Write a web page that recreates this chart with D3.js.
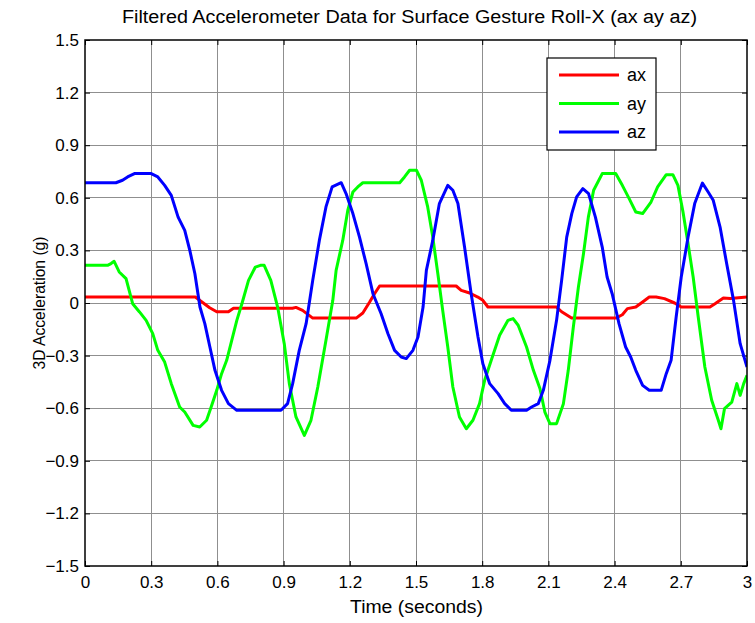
<!DOCTYPE html>
<html><head><meta charset="utf-8">
<script src="https://cdn.jsdelivr.net/npm/d3@7"></script>
<style>body{margin:0;background:#fff}svg{display:block}text{font-family:"Liberation Sans",Arial,sans-serif;fill:#000}</style>
</head><body><svg id="c" width="755" height="623"></svg>
<script>
const title = "Filtered Accelerometer Data for Surface Gesture Roll-X (ax ay az)";
const xLabel = "Time (seconds)";
const yLabel = "3D Acceleration (g)";
const xTicks = [0,0.3,0.6,0.9,1.2,1.5,1.8,2.1,2.4,2.7,3];
const yTicks = [-1.5,-1.2,-0.9,-0.6,-0.3,0,0.3,0.6,0.9,1.2,1.5];
const seriesNames = ["ax","ay","az"];
const seriesColors = ["#ff0000","#00ff00","#0000ff"];

const axT = [0,0.50,0.53,0.565,0.597,0.65,0.673,0.94,0.956,0.986,1.032,1.229,1.259,1.29,1.312,1.335,1.682,1.705,1.743,1.78,1.803,1.826,2.137,2.16,2.205,2.405,2.435,2.458,2.496,2.527,2.557,2.588,2.626,2.672,2.702,2.832,2.855,2.893,2.924,3.0];
const axV = [0.034,0.034,0.006,-0.027,-0.05,-0.05,-0.03,-0.03,-0.025,-0.042,-0.086,-0.086,-0.057,0.006,0.053,0.097,0.097,0.072,0.057,0.034,0.015,-0.023,-0.023,-0.05,-0.086,-0.086,-0.067,-0.032,-0.023,0.006,0.034,0.034,0.025,0,-0.023,-0.023,-0.004,0.029,0.025,0.034];

const ayT = [0,0.102,0.118,0.132,0.155,0.186,0.216,0.247,0.277,0.307,0.33,0.361,0.391,0.429,0.452,0.49,0.52,0.551,0.574,0.597,0.619,0.642,0.665,0.688,0.711,0.741,0.772,0.795,0.812,0.842,0.873,0.903,0.926,0.956,0.994,1.024,1.055,1.092,1.123,1.138,1.168,1.191,1.214,1.236,1.259,1.426,1.448,1.471,1.502,1.524,1.553,1.576,1.599,1.621,1.644,1.667,1.697,1.728,1.758,1.788,1.811,1.841,1.879,1.917,1.94,1.963,2.001,2.032,2.062,2.084,2.107,2.137,2.168,2.19,2.213,2.236,2.259,2.281,2.305,2.344,2.405,2.435,2.466,2.496,2.527,2.565,2.595,2.634,2.664,2.687,2.71,2.733,2.756,2.779,2.809,2.84,2.87,2.882,2.898,2.931,2.954,2.969,2.985,3.0];
const ayV = [0.215,0.215,0.225,0.238,0.177,0.139,-0.004,-0.051,-0.099,-0.175,-0.27,-0.337,-0.46,-0.593,-0.622,-0.698,-0.707,-0.669,-0.584,-0.498,-0.403,-0.327,-0.213,-0.099,-0.004,0.129,0.205,0.215,0.215,0.129,-0.023,-0.232,-0.46,-0.65,-0.755,-0.669,-0.479,-0.213,0.015,0.186,0.357,0.529,0.633,0.662,0.686,0.686,0.719,0.757,0.757,0.7,0.548,0.376,0.167,-0.042,-0.251,-0.479,-0.65,-0.717,-0.669,-0.574,-0.441,-0.327,-0.184,-0.099,-0.089,-0.127,-0.251,-0.384,-0.489,-0.622,-0.688,-0.688,-0.574,-0.384,-0.137,0.091,0.281,0.49,0.643,0.738,0.738,0.671,0.595,0.519,0.51,0.576,0.662,0.732,0.732,0.671,0.519,0.338,0.148,-0.08,-0.365,-0.555,-0.669,-0.717,-0.603,-0.565,-0.46,-0.527,-0.46,-0.413];

const azT = [0,0.14,0.17,0.193,0.224,0.3,0.33,0.361,0.391,0.422,0.452,0.475,0.498,0.521,0.543,0.566,0.589,0.619,0.65,0.688,0.888,0.918,0.941,0.971,1.002,1.032,1.062,1.092,1.12,1.161,1.183,1.214,1.244,1.274,1.305,1.342,1.373,1.403,1.433,1.456,1.486,1.509,1.532,1.547,1.576,1.606,1.644,1.667,1.69,1.72,1.75,1.781,1.803,1.834,1.872,1.902,1.932,2.001,2.024,2.054,2.077,2.107,2.137,2.16,2.183,2.206,2.228,2.256,2.282,2.313,2.344,2.366,2.389,2.42,2.45,2.473,2.496,2.527,2.557,2.611,2.634,2.656,2.679,2.702,2.733,2.763,2.798,2.824,2.847,2.878,2.908,2.939,2.969,3.0];
const azV = [0.686,0.686,0.7,0.719,0.738,0.738,0.719,0.671,0.614,0.49,0.414,0.3,0.167,-0.023,-0.118,-0.251,-0.384,-0.498,-0.574,-0.612,-0.612,-0.574,-0.46,-0.27,-0.118,0.129,0.357,0.548,0.662,0.686,0.624,0.51,0.376,0.224,0.053,-0.061,-0.175,-0.27,-0.308,-0.317,-0.27,-0.194,-0.023,0.186,0.357,0.567,0.671,0.643,0.567,0.319,0.053,-0.194,-0.346,-0.46,-0.517,-0.574,-0.612,-0.612,-0.593,-0.574,-0.498,-0.327,-0.099,0.129,0.376,0.51,0.605,0.652,0.624,0.49,0.319,0.148,0.053,-0.118,-0.251,-0.308,-0.384,-0.47,-0.498,-0.498,-0.403,-0.327,-0.08,0.148,0.376,0.567,0.684,0.633,0.586,0.433,0.224,0.015,-0.232,-0.365];

const svg = d3.select("#c");
const L=85, R=747, T=40, B=566;
const x = d3.scaleLinear().domain([0,3]).range([L,R]);
const y = d3.scaleLinear().domain([-1.5,1.5]).range([B,T]);

const grid = svg.append("g").attr("stroke","#8f8f8f").attr("stroke-width",1).attr("shape-rendering","crispEdges");
xTicks.slice(1,-1).forEach(t=>grid.append("line").attr("x1",x(t)).attr("x2",x(t)).attr("y1",T).attr("y2",B));
yTicks.slice(1,-1).forEach(t=>grid.append("line").attr("y1",y(t)).attr("y2",y(t)).attr("x1",L).attr("x2",R));

const fmt = v => d3.format("")(+v.toFixed(1));

const axB = d3.axisBottom(x).tickValues(xTicks).tickSizeInner(-5).tickSizeOuter(0).tickPadding(10).tickFormat(fmt);
const axL = d3.axisLeft(y).tickValues(yTicks).tickSizeInner(-5).tickSizeOuter(0).tickPadding(6).tickFormat(fmt);
const axTop = d3.axisTop(x).tickValues(xTicks).tickSizeInner(-5).tickSizeOuter(0).tickFormat("");
const axRt = d3.axisRight(y).tickValues(yTicks).tickSizeInner(-5).tickSizeOuter(0).tickFormat("");
function style(g){ g.selectAll("path").remove(); g.selectAll("line").attr("stroke","#000"); g.selectAll("text").attr("font-size","17px").attr("fill","#000"); g.attr("font-family",null); }
svg.append("g").attr("transform",`translate(0,${B})`).call(axB).call(style).selectAll("text").attr("dy","0.71em");
svg.append("g").attr("transform",`translate(${L},0)`).call(axL).call(style);
svg.append("g").attr("transform",`translate(0,${T})`).call(axTop).call(style);
svg.append("g").attr("transform",`translate(${R},0)`).call(axRt).call(style);

const data = [axT.map((t,i)=>[t,axV[i]]), ayT.map((t,i)=>[t,ayV[i]]), azT.map((t,i)=>[t,azV[i]])];
const line = d3.line().x(d=>x(d[0])).y(d=>y(d[1]));
svg.append("clipPath").attr("id","pc").append("rect").attr("x",L).attr("y",T).attr("width",R-L).attr("height",B-T);
const lines = svg.append("g").attr("clip-path","url(#pc)");
data.forEach((d,i)=>lines.append("path").attr("d",line(d)).attr("fill","none").attr("stroke",seriesColors[i]).attr("stroke-width",3).attr("stroke-linejoin","round"));

svg.append("rect").attr("x",L).attr("y",T).attr("width",R-L).attr("height",B-T).attr("fill","none").attr("stroke","#000").attr("stroke-width",1.5);

svg.append("text").attr("x",409.5).attr("y",23).attr("text-anchor","middle").attr("font-size","18px")
  .attr("textLength",575).attr("lengthAdjust","spacingAndGlyphs").text(title);
svg.append("text").attr("x",416.5).attr("y",613).attr("text-anchor","middle").attr("font-size","18px")
  .attr("textLength",133).attr("lengthAdjust","spacingAndGlyphs").text(xLabel);
svg.append("text").attr("transform",`translate(45,${303}) rotate(-90)`).attr("text-anchor","middle").attr("font-size","16px")
  .attr("textLength",133).attr("lengthAdjust","spacingAndGlyphs").text(yLabel);

const lg = svg.append("g");
lg.append("rect").attr("x",547).attr("y",58).attr("width",109).attr("height",92).attr("fill","#fff").attr("stroke","#000").attr("stroke-width",1.2);
seriesNames.forEach((n,i)=>{
  const ly = 75 + i*28.5;
  lg.append("line").attr("x1",559).attr("x2",619).attr("y1",ly).attr("y2",ly).attr("stroke",seriesColors[i]).attr("stroke-width",3);
  lg.append("text").attr("x",627).attr("y",ly).attr("dy","0.35em").attr("font-size","18px").text(n);
});
</script></body></html>
